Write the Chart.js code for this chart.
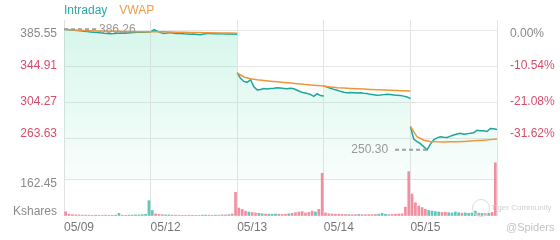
<!DOCTYPE html>
<html>
<head>
<meta charset="utf-8">
<script src="https://cdn.jsdelivr.net/npm/chart.js@4"></script>
<style>
  body { margin: 0; background: #fff; }
  #wrap { position: relative; width: 560px; height: 240px; font-family: 'Liberation Sans', Arial, sans-serif; }
  #legend { position: absolute; left: 64px; top: 3px; font-size: 12px; line-height: 14px; }
  #legend span { margin-right: 12px; }
  .wm { position: absolute; color: #d0d0d0; }
  #logo { left: 472px; top: 199px; width: 16px; height: 16px; border: 1.5px solid #ddd; border-radius: 50%; }
</style>
</head>
<body>
<div id="wrap">
  <canvas id="chart" width="560" height="240"></canvas>
  <div id="legend"><span style="color:#2aa9a7">Intraday</span><span style="color:#ef9c48">VWAP</span></div>
  <div class="wm" id="logo"></div>
  <div class="wm" style="left:491px;top:203px;font-size:8px;">Tiger Community</div>
  <div class="wm" style="left:506px;top:221px;font-size:11px;color:#c4c4c4;">@Spiders</div>
</div>
<script>
// trading days shown on the x axis
const days = ['05/09', '05/12', '05/13', '05/14', '05/15'];

// intraday price, one value every 15 minutes from 09:30 to 16:00
const intraday = [
  [386.26, 386.0, 385.6, 385.2, 385.0, 384.6, 384.0, 383.8, 383.4, 383.0, 382.8, 382.5, 382.0, 381.6, 381.4, 381.6, 381.9, 382.2, 382.0, 382.2, 382.4, 382.6, 382.9, 383.0, 383.1, 383.3, 383.4],
  [383.5, 385.9, 384.3, 382.6, 381.5, 382.3, 382.6, 382.0, 381.6, 381.5, 381.2, 381.0, 380.8, 380.9, 380.6, 380.3, 381.0, 381.6, 381.5, 381.4, 381.6, 381.3, 381.2, 381.0, 381.1, 380.9, 380.8],
  [337.5, 331.0, 327.5, 326.5, 329.5, 321.5, 318.0, 318.5, 319.5, 319.0, 319.4, 319.8, 320.4, 320.0, 319.6, 319.2, 319.7, 319.2, 317.5, 315.8, 314.6, 314.0, 312.8, 310.6, 313.8, 311.5, 311.0],
  [322.5, 321.2, 319.8, 318.5, 317.6, 316.3, 315.4, 314.8, 315.0, 314.7, 314.3, 314.6, 314.1, 313.9, 312.9, 312.5, 311.9, 312.2, 312.6, 313.0, 312.7, 312.2, 312.0, 311.6, 310.9, 310.0, 308.2],
  [276.6, 262.5, 259.6, 257.2, 253.9, 250.3, 256.8, 261.5, 263.8, 265.1, 264.6, 264.2, 265.8, 267.0, 268.2, 269.0, 268.0, 268.3, 268.9, 269.6, 272.4, 271.7, 271.9, 271.0, 274.4, 274.0, 273.3]
];

// VWAP, one value every 30 minutes
const vwap = [
  [386.3, 385.7, 385.3, 385.0, 384.7, 384.5, 384.3, 384.1, 384.0, 383.9, 383.8, 383.7, 383.6, 383.6],
  [383.6, 383.7, 383.5, 383.3, 383.1, 382.9, 382.8, 382.6, 382.5, 382.4, 382.3, 382.2, 382.1, 382.0],
  [337.0, 332.5, 330.5, 329.3, 328.5, 327.8, 327.0, 326.3, 325.6, 325.0, 324.2, 323.6, 322.9, 322.3],
  [322.1, 321.3, 320.4, 320.0, 319.6, 319.2, 318.9, 318.5, 318.2, 317.8, 317.5, 317.2, 316.9, 316.6],
  [276.6, 265.0, 261.2, 259.8, 259.3, 259.2, 259.3, 259.5, 259.8, 260.2, 260.7, 261.2, 261.8, 262.5]
];

// volume in Kshares, one bar per 15 minutes
const volume = [
  [19, 8, 6, 5, 5, 4, 4, 4, 3, 4, 3, 3, 4, 3, 3, 4, 12, 4, 3, 4, 4, 5, 5, 6, 8, 69],
  [25, 10, 7, 6, 5, 5, 4, 4, 4, 3, 3, 4, 3, 3, 3, 4, 4, 4, 3, 4, 4, 5, 5, 6, 9, 107],
  [36, 30, 22, 18, 16, 14, 12, 10, 9, 8, 8, 9, 8, 7, 8, 10, 12, 15, 18, 20, 14, 16, 22, 18, 30, 193],
  [14, 10, 9, 8, 8, 7, 7, 6, 6, 6, 7, 6, 6, 6, 6, 7, 8, 12, 8, 6, 7, 8, 9, 10, 40, 200],
  [99, 60, 45, 38, 30, 25, 22, 20, 18, 16, 17, 15, 14, 18, 15, 13, 14, 12, 14, 22, 13, 12, 11, 12, 16, 240]
];

// axis ticks
const priceTicks = [385.55, 344.91, 304.27, 263.63];
const pctLabels = ['0.00%', '-10.54%', '-21.08%', '-31.62%'];
const volTick = 162.45;

const DAY_MIN = 390;
const GRAY = '#8a8a8a';
const RED = '#d94c6a';
const FONT = "'Liberation Sans', Arial, sans-serif";

function toPoints(series, step) {
  const pts = [];
  series.forEach((day, d) => {
    day.forEach((v, i) => pts.push({ x: d * DAY_MIN + i * step, y: v }));
    pts.push({ x: (d + 1) * DAY_MIN, y: null });
  });
  return pts;
}

const pricePts = toPoints(intraday, 15);
const vwapPts = toPoints(vwap, 30);
const volPts = [];
const volColors = [];
volume.forEach((day, d) => {
  day.forEach((v, i) => {
    volPts.push({ x: d * DAY_MIN + i * 15 + 7.5, y: v });
    const up = intraday[d][i + 1] >= intraday[d][i];
    volColors.push(up ? 'rgba(40,180,162,0.75)' : 'rgba(238,104,128,0.75)');
  });
});

// price pane (top) and volume pane (bottom) ranges
const PRICE_MAX = 396.84, PRICE_MIN = 241.06, FILL_BASE = 216.22;
const FULL_MIN = 175.58;
const VOL_MAX = 261.7;

const extremes = {
  id: 'extremes',
  afterDatasetsDraw(chart) {
    const { ctx, chartArea, scales: { x, y } } = chart;
    const pts = pricePts.filter(p => p.y !== null);
    const hi = pts.reduce((a, b) => (b.y > a.y ? b : a));
    const lo = pts.reduce((a, b) => (b.y < a.y ? b : a));
    ctx.save();
    ctx.font = '12px ' + FONT;
    ctx.textBaseline = 'middle';
    ctx.strokeStyle = '#a0a0a0';
    ctx.fillStyle = '#999';
    ctx.lineWidth = 2;
    ctx.setLineDash([4, 3]);
    [hi, lo].forEach(p => {
      const px = x.getPixelForValue(p.x);
      const py = y.getPixelForValue(p.y);
      const toLeft = px > (chartArea.left + chartArea.right) / 2;
      const end = toLeft ? px - 35 : px + 32;
      ctx.beginPath();
      ctx.moveTo(px, py);
      ctx.lineTo(end, py);
      ctx.stroke();
      ctx.textAlign = toLeft ? 'right' : 'left';
      ctx.fillText(p.y.toFixed(2), toLeft ? end - 4 : end + 3, py);
    });
    ctx.restore();
  }
};

new Chart(document.getElementById('chart'), {
  data: {
    datasets: [
      {
        type: 'line',
        label: 'Intraday',
        data: pricePts,
        yAxisID: 'y',
        borderColor: '#1ca79a',
        borderWidth: 1.5,
        pointRadius: 0,
        clip: false,
        fill: { value: FILL_BASE },
        backgroundColor: (c) => {
          const area = c.chart.chartArea;
          if (!area) return 'rgba(64,214,160,0.15)';
          const g = c.chart.ctx.createLinearGradient(0, area.top, 0, 180);
          g.addColorStop(0, 'rgba(64,214,160,0.22)');
          g.addColorStop(1, 'rgba(64,214,160,0.03)');
          return g;
        },
        order: 2
      },
      {
        type: 'line',
        label: 'VWAP',
        data: vwapPts,
        yAxisID: 'y',
        borderColor: '#f0963a',
        borderWidth: 1.5,
        pointRadius: 0,
        fill: false,
        order: 1
      },
      {
        type: 'bar',
        label: 'Volume',
        data: volPts,
        yAxisID: 'yv',
        backgroundColor: volColors,
        barThickness: 2,
        order: 3
      }
    ]
  },
  options: {
    responsive: false,
    animation: false,
    layout: { padding: { top: 20 } },
    plugins: { legend: { display: false }, tooltip: { enabled: false } },
    scales: {
      x: {
        type: 'linear',
        offset: false,
        min: 0,
        max: DAY_MIN * days.length,
        afterBuildTicks: s => { s.ticks = days.concat(['']).map((_, i) => ({ value: i * DAY_MIN })); },
        afterFit: s => { s.height = 24; s.paddingLeft = 0; s.paddingRight = 0; },
        ticks: {
          align: 'start',
          autoSkip: false,
          maxRotation: 0,
          padding: 4,
          color: '#777',
          font: { family: FONT, size: 12 },
          callback: (v, i) => days[i] || ''
        },
        grid: { color: '#e3e3e3', drawTicks: false, offset: false },
        border: { display: false }
      },
      y: {
        position: 'left',
        stack: 'left',
        stackWeight: 138,
        weight: 2,
        min: PRICE_MIN,
        max: PRICE_MAX,
        afterBuildTicks: s => { s.ticks = priceTicks.map(v => ({ value: v })); },
        afterFit: s => { s.width = 64; },
        ticks: {
          padding: 7,
          font: { family: FONT, size: 12, lineHeight: '8px' },
          color: c => (c.index === 0 ? GRAY : RED),
          callback: (v, i) => {
            const t = priceTicks[i].toFixed(2);
            if (i === 0) return ['', t];
            if (i === priceTicks.length - 1) return [t, ''];
            return t;
          }
        },
        grid: { color: '#e6e6e6', drawTicks: false },
        border: { display: false }
      },
      yv: {
        position: 'left',
        stack: 'left',
        stackWeight: 58,
        weight: 1,
        min: 0,
        max: VOL_MAX,
        afterBuildTicks: s => { s.ticks = [{ value: 0 }, { value: volTick }]; },
        afterFit: s => { s.width = 64; },
        ticks: {
          padding: 7,
          color: GRAY,
          font: { family: FONT, size: 12, lineHeight: '8px' },
          callback: v => (v === 0 ? ['Kshares', ''] : ['', volTick.toFixed(2)])
        },
        grid: {
          drawTicks: false,
          color: c => (c.tick && c.tick.value === 0 ? 'rgba(0,0,0,0)' : '#e6e6e6')
        },
        border: { display: false }
      },
      yp: {
        position: 'right',
        min: FULL_MIN,
        max: PRICE_MAX,
        afterBuildTicks: s => { s.ticks = priceTicks.map(v => ({ value: v })); },
        afterFit: s => { s.width = 63; },
        ticks: {
          padding: 5,
          font: { family: FONT, size: 12, lineHeight: '8px' },
          color: c => (c.index === 0 ? GRAY : RED),
          callback: (v, i) => {
            const t = pctLabels[i];
            if (i === 0) return ['', t];
            if (i === pctLabels.length - 1) return [t, ''];
            return t;
          }
        },
        grid: { display: false },
        border: { display: false }
      }
    }
  },
  plugins: [extremes]
});
</script>
</body>
</html>
